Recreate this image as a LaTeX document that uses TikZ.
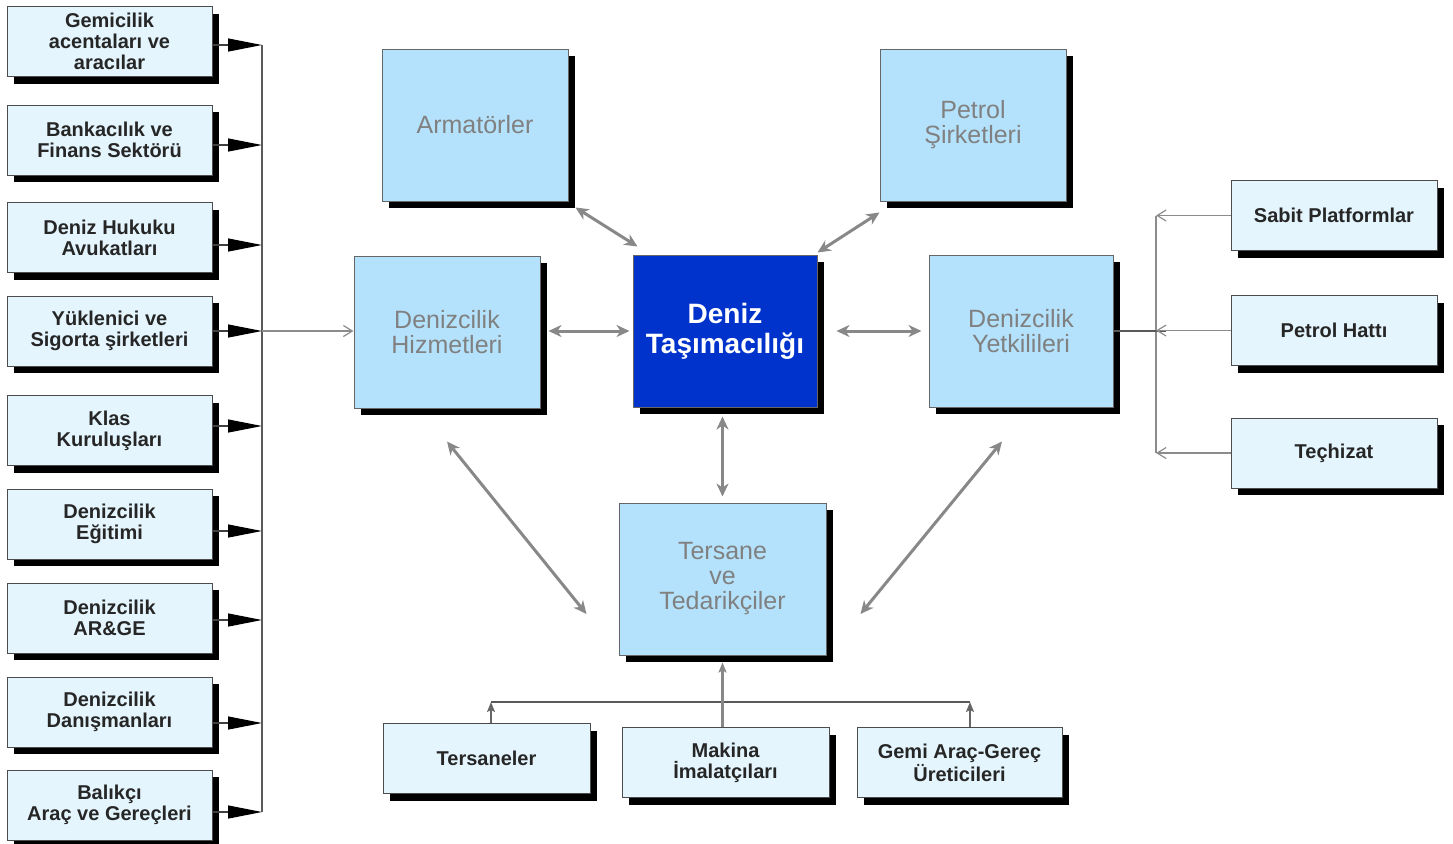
\documentclass[tikz,border=0pt]{standalone}
\usepackage{fontspec}
\setmainfont{Liberation Sans}
\usetikzlibrary{arrows.meta,shadows,calc}
\definecolor{kutu}{RGB}{228,245,253}
\definecolor{blok}{RGB}{180,226,252}
\definecolor{merkez}{RGB}{0,51,204}
\definecolor{yazi}{RGB}{128,128,128}
\definecolor{ok}{RGB}{136,136,136}

\begin{document}
\begin{tikzpicture}[x=0.5pt,y=-0.5pt,
	golge/.style={drop shadow={shadow xshift=3.5pt,shadow yshift=-3.5pt,fill=black,opacity=1}},
	kucuk/.style={golge,draw=black!70,fill=kutu,line width=0.5pt,minimum width=102.5pt,minimum height=35pt,inner sep=0pt,align=center,text=black!85,font=\bfseries\fontsize{10}{10.5}\selectfont},
	buyuk/.style={golge,draw=black!60,fill=blok,line width=0.5pt,minimum width=93pt,minimum height=76pt,inner sep=0pt,align=center,text=yazi,font=\fontsize{12.5}{12.5}\selectfont},
	cift/.style={{Stealth[length=6.5pt,width=6pt,inset=2pt]}-{Stealth[length=6.5pt,width=6pt,inset=2pt]},draw=ok,line width=1.5pt},
	siyahok/.style={-{Triangle[length=17pt,width=6.5pt,black]},draw=black!75,line width=0.6pt},
	acik/.style={-{Straight Barb[length=4.5pt,width=5.5pt]},draw=black!45,line width=0.6pt},
	koyu/.style={draw=black!65,line width=0.8pt},
	koyuok/.style={-{Stealth[length=5pt,width=4pt,inset=1pt]},draw=black!60,line width=0.8pt}]
	\useasboundingbox (0,0) rectangle (1453,843);
	%%%%% START %%%%%

	% left column
	\foreach \n/\y/\ay/\t in {gem/41.5/45/{Gemicilik\\acentaları ve\\aracılar},
		bnk/140/145/{Bankacılık ve\\Finans Sektörü},
		huk/237.5/245/{Deniz Hukuku\\Avukatları},
		yuk/331/331/{Yüklenici ve\\Sigorta şirketleri},
		kls/430.5/426/{Klas\\Kuruluşları},
		egt/524/531/{Denizcilik\\Eğitimi},
		arg/618/620/{Denizcilik\\AR\&GE},
		dan/712/723/{Denizcilik\\Danışmanları},
		bal/805/812/{Balıkçı\\Araç ve Gereçleri}}{
		\node[kucuk] (\n) at (109.5,\y) {\t};
		\coordinate (lb\n) at (262,\ay);
		\draw[siyahok] (\n.east |- lb\n) -- (lb\n);
	}
	\draw[koyu,line width=0.6pt] (lbgem) -- (lbbal);

	% big boxes
	\node[buyuk] (arm) at (475,125) {Armatörler};
	\node[buyuk] (pet) at (973,125) {Petrol\\Şirketleri};
	\node[buyuk] (hiz) at (447,332) {Denizcilik\\Hizmetleri};
	\node[buyuk,fill=merkez,minimum width=92pt,text=white,font=\bfseries\fontsize{14}{15}\selectfont] (mrk) at (725,331) {Deniz\\Taşımacılığı};
	\node[buyuk,minimum width=92pt] (yet) at (1021,331) {Denizcilik\\Yetkilileri};
	\node[buyuk,minimum width=103.5pt] (ter) at (722.5,579) {Tersane\\ve\\Tedarikçiler};

	\draw[acik] (lbyuk) -- (hiz.west |- lbyuk);

	% arrows round the centre
	\draw[cift] ($(arm.south east)+(7,6)$) -- ($(mrk.north west)+(5,-8)$);
	\draw[cift] ($(pet.south west)+(0,11)$) -- ($(mrk.north east)+(0,-2)$);
	\draw[cift,shorten <=4pt,shorten >=1.5pt] (hiz.east |- mrk.west) -- (mrk.west);
	\draw[cift,shorten <=9.5pt,shorten >=3.5pt] (mrk.east) -- (yet.west);
	\draw[cift,shorten <=4.5pt,shorten >=3pt] (mrk.south -| ter.north) -- (ter.north);
	\draw[cift] ($(hiz.south)+(0,33)$) -- ($(ter.west)+(-32,35)$);
	\draw[cift] ($(yet.south)+(-19,34)$) -- ($(ter.east)+(34,35)$);

	% right column
	\node[kucuk,minimum width=103pt] (sab) at (1334,215.5) {Sabit Platformlar};
	\node[kucuk,minimum width=103pt] (ph) at (1334,330.5) {Petrol Hattı};
	\node[kucuk,minimum width=103pt] (tec) at (1334,453) {Teçhizat};
	\coordinate (rbus) at (1156,331);
	\draw[draw=black!45,line width=0.6pt] (sab.west -| rbus) -- (tec.west -| rbus);
	\draw[koyu] (yet.east) -- ($(rbus)+(10,0)$);
	\foreach \n in {sab,ph,tec}
		\draw[acik] (\n.west) -- (\n.west -| rbus);

	% bottom row
	\node[kucuk,minimum width=103.5pt] (trs) at (486.5,758.5) {Tersaneler};
	\node[kucuk,minimum width=103.5pt] (mak) at (725.5,762.5) {Makina\\İmalatçıları};
	\node[kucuk,minimum width=102.5pt] (gmi) at (959.5,762.5) {Gemi Araç-Gereç\\Üreticileri};
	\coordinate (bl) at (491,702);
	\coordinate (br) at (970,702);
	\draw[koyu] (bl) -- (br);
	\draw[koyuok] (trs.north -| bl) -- (bl);
	\draw[koyuok] (gmi.north -| br) -- (br);
	\draw[koyuok,draw=ok,line width=1.5pt,shorten >=3.5pt] (mak.north -| ter.south) -- (ter.south);

	%%%%% END %%%%%
\end{tikzpicture}
\end{document}
